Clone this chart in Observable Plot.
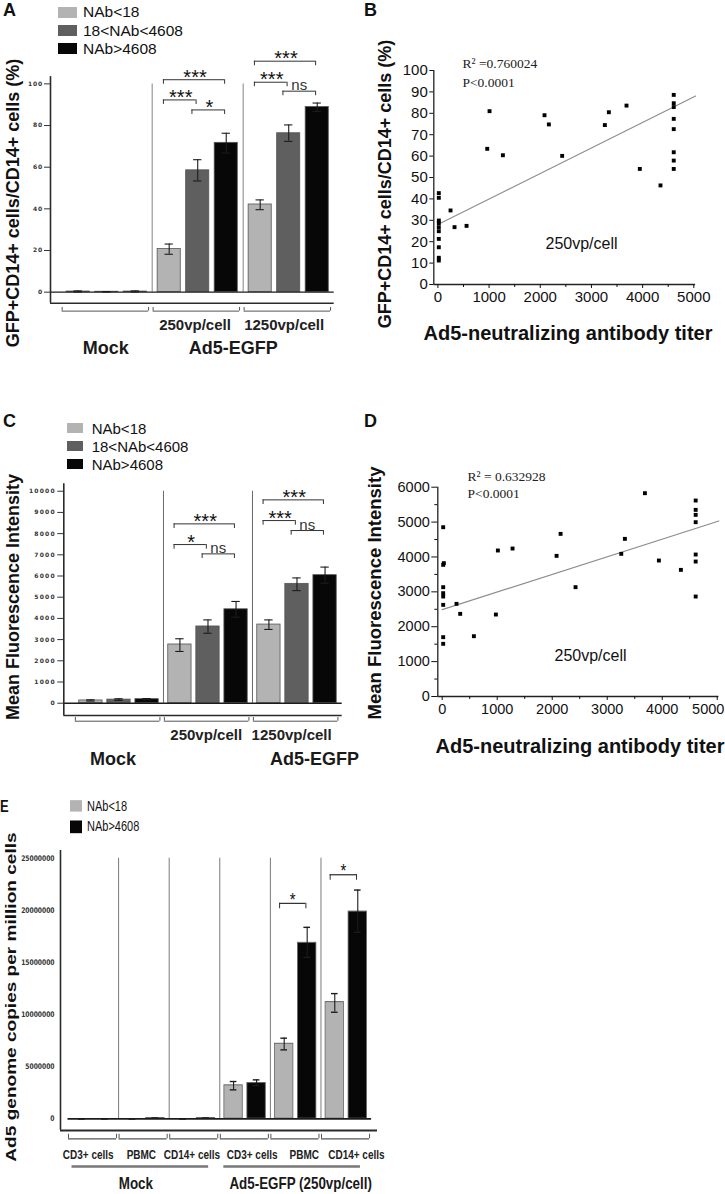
<!DOCTYPE html>
<html><head><meta charset="utf-8">
<script src="https://cdn.jsdelivr.net/npm/d3@7"></script>
<script src="https://cdn.jsdelivr.net/npm/@observablehq/plot@0.6"></script>
<style>
body{margin:0;background:#fff;}
#root{position:relative;width:725px;height:1194px;overflow:hidden;background:#fff;font-family:"Liberation Sans",Arial,sans-serif;color:#111;}
.panel{position:absolute;}
.letter{position:absolute;font-weight:bold;font-size:18px;line-height:1;}
.ytitle{position:absolute;font-weight:bold;white-space:nowrap;line-height:1;transform:translate(-50%,-50%) rotate(-90deg);}
.xtitle{position:absolute;font-weight:bold;white-space:nowrap;line-height:1;transform:translate(-50%,-50%);}
.leg{position:absolute;white-space:nowrap;line-height:1;transform:translateY(-50%);}
.sw{position:absolute;}
</style></head>
<body><div id="root"></div>
<script>
// ---------------- DATA ----------------
// Panels A and C (grouped bars)
const seriesABC = ["NAb<18", "18<NAb<4608", "NAb>4608"];
const colorsABC = ["#b3b3b3", "#5f5f5f", "#070707"];
const groupsAC = ["Mock", "250vp/cell", "1250vp/cell"];
const doseLabelsAC = ["", "250vp/cell", "1250vp/cell"];
const treatmentsAC = ["Mock", "Ad5-EGFP"];
const treatmentOfGroupAC = [0, 1, 1];

// Panel A: GFP+CD14+ cells / CD14+ cells (%)
const valuesA = [[0.3, 0.2, 0.3], [20.7, 58.5, 71.7], [42.1, 76.3, 88.9]];
const lowA = [[0.1, 0.1, 0.1], [18.2, 53.4, 66.8], [39.6, 72.4, 86.8]];
const highA = [[0.6, 0.3, 0.6], [23.1, 63.6, 76.3], [44.3, 80.3, 90.8]];
const yTicksA = [0, 20, 40, 60, 80, 100];
const sigGroupA = [1, 1, 1, 2, 2, 2];
const sigFromA = [0, 0, 1, 0, 0, 1];
const sigToA = [2, 1, 2, 2, 1, 2];
const sigLevelA = [102, 92.3, 87.5, 110.9, 100.8, 96.5];
const sigTextA = ["***", "***", "*", "***", "***", "ns"];

// Panel C: Mean Fluorescence Intensity
const valuesC = [[130, 170, 190], [2770, 3620, 4430], [3710, 5630, 6040]];
const lowC = [[100, 130, 160], [2440, 3300, 4060], [3480, 5310, 5660]];
const highC = [[160, 210, 220], [3040, 3930, 4800], [3930, 5910, 6420]];
const yTicksC = [0, 1000, 2000, 3000, 4000, 5000, 6000, 7000, 8000, 9000, 10000];
const sigGroupC = [1, 1, 1, 2, 2, 2];
const sigFromC = [0, 0, 1, 0, 0, 1];
const sigToC = [2, 1, 2, 2, 1, 2];
const sigLevelC = [8459, 7484, 7044, 9591, 8616, 8145];
const sigTextC = ["***", "*", "ns", "***", "***", "ns"];

// Panel B: scatter, GFP % vs titer
const titerB = [18, 18, 18, 18, 18, 18, 18, 18, 18, 18, 247, 325, 560, 964, 1009, 1270, 2083, 2168, 2428, 3262, 3340, 3685, 3945, 4349, 4608, 4608, 4608, 4608, 4608, 4608, 4608, 4608];
const gfpB = [42.7, 40.5, 29.9, 28.7, 26.8, 24.9, 21.3, 17.4, 12.5, 11.2, 34.6, 26.8, 27.4, 63.4, 81.0, 60.4, 79.1, 74.8, 60.1, 74.5, 80.5, 83.6, 54.0, 46.3, 88.6, 84.7, 82.9, 77.4, 72.6, 61.8, 57.9, 54.0];
const fitB = [28.0, 0.01193]; // intercept, slope of the drawn trend line
const yTicksB = [0, 10, 20, 30, 40, 50, 60, 70, 80, 90, 100];
const xTicksBD = [0, 1000, 2000, 3000, 4000, 5000];
const xMinorBD = [500, 1500, 2500, 3500, 4500];

// Panel D: scatter, MFI vs titer
const titerD = [18, 30, 18, 18, 18, 18, 18, 18, 18, 260, 327, 576, 976, 1012, 1279, 2079, 2152, 2424, 3255, 3321, 3685, 3939, 4339, 4608, 4608, 4608, 4608, 4608, 4608, 4608];
const mfiD = [4853, 3822, 3774, 3134, 2962, 2866, 2627, 1701, 1510, 2656, 2369, 1729, 2350, 4185, 4242, 4032, 4662, 3134, 4089, 4519, 5828, 3898, 3630, 5618, 5350, 5207, 4997, 4070, 3869, 2866];
const fitD = [2490, 0.505];
const yTicksD = [0, 1000, 2000, 3000, 4000, 5000, 6000];
const yMinorD = [500, 1500, 2500, 3500, 4500, 5500];

// Panel E: Ad5 genome copies per million cells
const seriesE = ["NAb<18", "NAb>4608"];
const colorsE = ["#b3b3b3", "#070707"];
const cellTypesE = ["CD3+ cells", "PBMC", "CD14+ cells", "CD3+ cells", "PBMC", "CD14+ cells"];
const treatmentsE = ["Mock", "Ad5-EGFP (250vp/cell)"];
const treatmentOfGroupE = [0, 0, 0, 1, 1, 1];
const valuesE = [[0, 0], [0, 60000], [0, 60000], [3200000, 3420000], [7190000, 16880000], [11190000, 19880000]];
const lowE = [[0, 0], [0, 60000], [0, 60000], [2780000, 3200000], [6620000, 15500000], [10230000, 17900000]];
const highE = [[0, 0], [0, 60000], [0, 60000], [3580000, 3740000], [7740000, 18380000], [12020000, 21960000]];
const yTicksE = [0, 5000000, 10000000, 15000000, 20000000, 25000000];
const sigGroupE = [4, 5];
const sigFromE = [0, 0];
const sigToE = [1, 1];
const sigLevelE = [20680000, 23430000];
const sigTextE = ["*", "*"];

// ---------------- HELPERS ----------------
const root = document.getElementById("root");
function div(parent, cls, text, st) {
  const d = document.createElement("div");
  d.className = cls;
  if (text != null) d.textContent = text;
  Object.assign(d.style, st || {});
  parent.appendChild(d);
  return d;
}
function panel(parent, left, top, node, extra) {
  const p = div(parent, "panel", null, Object.assign({left: left + "px", top: top + "px"}, extra || {}));
  if (node) p.appendChild(node);
  return p;
}

function barPanel(o) {
  const nG = o.values.length;
  const b = d3.scaleBand().domain(d3.range(o.series.length)).range([0, 1]).padding(o.pad);
  const bw = b.bandwidth();
  const rows = o.values.flatMap((vals, gi) => vals.map((v, si) => {
    const x1 = gi + b(si);
    return {gi, si, series: o.series[si], x1, x2: x1 + bw, xc: x1 + bw / 2, value: v, lo: o.low[gi][si], hi: o.high[gi][si]};
  }));
  const at = (g, s) => rows.find(r => r.gi === g && r.si === s);
  const sig = o.sigGroup.map((g, i) => ({
    xa: at(g, o.sigFrom[i]).xc - 0.25 * bw,
    xb: at(g, o.sigTo[i]).xc - 0.07 * bw,
    y: o.sigLevel[i], text: o.sigText[i]
  }));
  const tl = (o.yDomain[1] - o.yDomain[0]) * 0.02;
  const groups = d3.range(nG);
  const cap = bw * 0.18;
  const ends = sig.flatMap(d => [{x: d.xa, y: d.y}, {x: d.xb, y: d.y}]);
  const gEnds = groups.flatMap(g => [g + 0.01, g + 0.96]);
  const treat = o.treatments.map((t, ti) => {
    const gs = groups.filter(g => o.treatmentOf[g] === ti);
    return {t, ti, x: d3.mean(gs, g => g + 0.5), x1: d3.min(gs) + 0.08, x2: d3.max(gs) + 0.78};
  });
  const ink = "#1c1c1c";
  const marks = [
    Plot.ruleX(groups.slice(1), {x: d => d, y1: 0, y2: o.sepTop, stroke: o.sepColor, strokeWidth: o.sepWidth}),
    Plot.rect(rows, {x1: "x1", x2: "x2", y1: 0, y2: "value", fill: "series", stroke: o.barStroke, strokeWidth: 0.8}),
    Plot.ruleY([0], {x1: o.zeroFrom, x2: o.zeroTo, stroke: ink, strokeWidth: 1.4}),
    Plot.ruleX(rows, {x: "xc", y1: "lo", y2: "hi", stroke: ink, strokeWidth: 1.1}),
    Plot.ruleY(rows, {y: "hi", x1: d => d.xc - cap, x2: d => d.xc + cap, stroke: ink, strokeWidth: 1.1}),
    Plot.ruleY(rows, {y: "lo", x1: d => d.xc - cap, x2: d => d.xc + cap, stroke: ink, strokeWidth: 1.1}),
    Plot.ruleX([o.xDomain[0]], {y1: o.yDomain[0], y2: o.yDomain[1], stroke: "#2a2a2a", strokeWidth: 1.6}),
    Plot.ruleY([o.yDomain[0]], {x1: o.xDomain[0], x2: o.xDomain[1], stroke: "#2a2a2a", strokeWidth: 1.6}),
    Plot.axisY(o.yTicks, {tickSize: o.tickSize, tickPadding: o.tickPadding, fontSize: o.tickFont, fontFamily: "DejaVu Sans", fontWeight: "bold", fill: "#333", stroke: "#333", tickFormat: d3.format("d"), label: null}),
    Plot.ruleY(sig, {y: "y", x1: "xa", x2: "xb", stroke: "#333", strokeWidth: 1}),
    Plot.ruleX(ends, {x: "x", y1: d => d.y - tl, y2: "y", stroke: "#333", strokeWidth: 1}),
    Plot.text(sig.filter(d => d.text !== "ns"), {x: d => (d.xa + d.xb) / 2, y: "y", text: "text", lineAnchor: "bottom", fontSize: o.starSize, dy: o.starDy, dx: o.starDx, ariaLabel: "stars"}),
    Plot.text(sig.filter(d => d.text === "ns"), {x: d => (d.xa + d.xb) / 2, y: "y", text: "text", lineAnchor: "bottom", fontSize: 15, dy: -1, fill: "#333"}),
    Plot.ruleY(groups, {y: o.gbY, x1: g => g + 0.01, x2: g => g + 0.96, stroke: "#555", strokeWidth: 1}),
    Plot.ruleX(gEnds, {x: d => d, y1: o.gbY, y2: o.gbY + tl * 0.8, stroke: "#555", strokeWidth: 1}),
    Plot.text(groups.filter(g => o.subLabels[g]), {x: g => g + 0.5 + o.subShift[g], y: o.subY, text: g => o.subLabels[g], fontWeight: "bold", fontSize: o.subSize, fill: "#222"})
  ];
  if (o.underlineY != null) {
    marks.push(Plot.ruleY(treat, {y: o.underlineY, x1: "x1", x2: "x2", stroke: "#777", strokeWidth: 2}));
  }
  treat.forEach((d, i) => {
    marks.push(Plot.text([d], {x: "x", y: o.treatY, text: "t", fontWeight: "bold", fontSize: o.treatSize, dx: o.treatDx[i], fill: "#1a1a1a"}));
  });
  const svg = Plot.plot({
    width: o.width, height: o.height,
    marginTop: o.mt, marginBottom: o.mb, marginLeft: o.ml, marginRight: o.mr,
    x: {domain: o.xDomain, axis: null},
    y: {domain: o.yDomain, axis: null},
    color: {domain: o.series, range: o.colors},
    style: {fontFamily: "Liberation Sans, Arial, sans-serif", background: "transparent", overflow: "visible", color: "#111"},
    marks
  });
  d3.select(svg).selectAll('g[aria-label="y-axis tick label"] text').attr("letter-spacing", o.tickSpacing);
  d3.select(svg).selectAll('g[aria-label="stars"] text').attr("letter-spacing", o.starSpacing);
  return svg;
}

function scatterPanel(o) {
  const pts = o.xs.map((x, i) => ({x, y: o.ys[i]}));
  const fitLine = [0, o.xDomain[1]].map(x => ({x, y: o.fit[0] + o.fit[1] * x}));
  const serif = "Liberation Serif, Times New Roman, serif";
  const marks = [
    Plot.ruleX([o.xDomain[0]], {y1: o.yDomain[0], y2: o.yDomain[1], stroke: "#222", strokeWidth: 1.3}),
    Plot.ruleY([o.yDomain[0]], {x1: o.xDomain[0], x2: o.xDomain[1], stroke: "#222", strokeWidth: 1.3}),
    Plot.axisY(o.yTicks, {tickSize: o.yTickSize, tickPadding: 2, fontSize: o.tickFont, tickFormat: d3.format("d"), label: null}),
    Plot.axisX(o.xTicks, {tickSize: 4, tickPadding: 3, fontSize: o.tickFont, tickFormat: d3.format("d"), label: null}),
    Plot.axisX(o.xMinor, {tickSize: 3, tickFormat: () => "", label: null}),
    Plot.line(fitLine, {x: "x", y: "y", stroke: "#8c8c8c", strokeWidth: 1.1}),
    Plot.dot(pts, {x: "x", y: "y", symbol: "square", r: 2.2, fill: "#000", stroke: null}),
    Plot.text([o.r2], {x: o.annX, y: o.r2Y, text: d => d, textAnchor: "start", fontFamily: serif, fontSize: 13.5, fill: "#222"}),
    Plot.text([o.p], {x: o.annX, y: o.pY, text: d => d, textAnchor: "start", fontFamily: serif, fontSize: 13.5, fill: "#222"}),
    Plot.text([o.dose], {x: o.doseX, y: o.doseY, text: d => d, fontSize: 16, fill: "#111"})
  ];
  if (o.yMinor) marks.splice(3, 0, Plot.axisY(o.yMinor, {tickSize: 3, tickFormat: () => "", label: null}));
  const svg = Plot.plot({
    width: o.width, height: o.height,
    marginTop: o.mt, marginBottom: o.mb, marginLeft: o.ml, marginRight: o.mr,
    x: {domain: o.xDomain, axis: null},
    y: {domain: o.yDomain, axis: null},
    style: {fontFamily: "Liberation Sans, Arial, sans-serif", background: "transparent", overflow: "visible", color: "#111"},
    marks
  });
  if (o.lastXLabelDx) {
    d3.select(svg).selectAll('g[aria-label="x-axis tick label"] text')
      .filter(function () { return this.textContent === "5000"; })
      .attr("dx", o.lastXLabelDx);
  }
  return svg;
}

function legend(parent, items, colors, o) {
  items.forEach((t, i) => {
    div(parent, "sw", null, {left: o.sx + "px", top: (o.tops[i]) + "px", width: o.sw + "px", height: o.sh + "px", background: colors[i]});
    div(parent, "leg", t, {left: o.tx + "px", top: (o.tops[i] + o.sh / 2) + "px", fontSize: o.fs + "px"});
  });
}

// ---------------- PANEL A ----------------
panel(root, 0, 0, barPanel({
  width: 360, height: 370, mt: 76.1, mb: 67.3, ml: 50, mr: 26.3,
  xDomain: [-0.118, 3.0], yDomain: [-5.3, 103.5],
  series: seriesABC, colors: colorsABC, values: valuesA, low: lowA, high: highA, pad: 0.19,
  sepTop: 100, sepColor: "#a0a0a0", sepWidth: 1.3, barStroke: "#555",
  zeroFrom: -0.118, zeroTo: 3.0,
  yTicks: yTicksA, tickSize: 6, tickPadding: 1.5, tickFont: 6, tickSpacing: 0.8,
  sigGroup: sigGroupA, sigFrom: sigFromA, sigTo: sigToA, sigLevel: sigLevelA, sigText: sigTextA,
  starSize: 20, starDy: 4, starDx: 1, starSpacing: 1.5,
  gbY: -9.1, subLabels: doseLabelsAC, subShift: [0, -0.03, -0.05], subY: -16, subSize: 15,
  treatments: treatmentsAC, treatmentOf: treatmentOfGroupAC, treatY: -27, treatSize: 18, treatDx: [-1, -10]
}));
div(root, "letter", "A", {left: "3px", top: "1px"});
legend(root, seriesABC, colorsABC, {sx: 58, sw: 19, sh: 11, tops: [6.7, 25, 43.3], tx: 83, fs: 15.5});
div(root, "ytitle", "GFP+CD14+ cells/CD14+ cells (%)", {left: "13px", top: "203px", fontSize: "18px"});

// ---------------- PANEL B ----------------
panel(root, 360, 0, scatterPanel({
  width: 365, height: 370, mt: 70, mb: 86, ml: 73.3, mr: 29.9,
  xDomain: [-80, 5035], yDomain: [0, 100],
  xs: titerB, ys: gfpB, fit: fitB,
  yTicks: yTicksB, yTickSize: 4, xTicks: xTicksBD, xMinor: xMinorBD, tickFont: 15,
  r2: "R² =0.760024", p: "P<0.0001", annX: 480, r2Y: 103.3, pY: 94.4,
  dose: "250vp/cell", doseX: 2806, doseY: 19.2
}));
div(root, "letter", "B", {left: "364px", top: "1px"});
div(root, "ytitle", "GFP+CD14+ cells/CD14+ cells (%)", {left: "385px", top: "184px", fontSize: "18px"});
div(root, "xtitle", "Ad5-neutralizing antibody titer", {left: "568px", top: "333px", fontSize: "20px"});

// ---------------- PANEL C ----------------
panel(root, 0, 370, barPanel({
  width: 360, height: 400, mt: 113.3, mb: 55, ml: 63.3, mr: 18.3,
  xDomain: [-0.12, 3.008], yDomain: [-580, 10350],
  series: seriesABC, colors: colorsABC, values: valuesC, low: lowC, high: highC, pad: 0.17,
  sepTop: 10000, sepColor: "#6a6a6a", sepWidth: 1, barStroke: "#555",
  zeroFrom: -0.12, zeroTo: 3.008,
  yTicks: yTicksC, tickSize: 6, tickPadding: 2, tickFont: 6, tickSpacing: 1.2,
  sigGroup: sigGroupC, sigFrom: sigFromC, sigTo: sigToC, sigLevel: sigLevelC, sigText: sigTextC,
  starSize: 20, starDy: 4, starDx: 1, starSpacing: 1.5,
  gbY: -849, subLabels: doseLabelsAC, subShift: [0, -0.02, -0.06], subY: -1524, subSize: 15,
  treatments: treatmentsAC, treatmentOf: treatmentOfGroupAC, treatY: -2656, treatSize: 18, treatDx: [-6, 62]
}));
div(root, "letter", "C", {left: "3px", top: "412px"});
legend(root, seriesABC, colorsABC, {sx: 66.7, sw: 16, sh: 10, tops: [422.7, 440.7, 459.3], tx: 91.7, fs: 15});
div(root, "ytitle", "Mean Fluorescence Intensity", {left: "13px", top: "597px", fontSize: "18px"});

// ---------------- PANEL D ----------------
panel(root, 360, 370, scatterPanel({
  width: 365, height: 400, mt: 116.7, mb: 74, ml: 77.3, mr: 6.6,
  xDomain: [-80, 5030], yDomain: [0, 6000],
  xs: titerD, ys: mfiD, fit: fitD,
  yTicks: yTicksD, yMinor: yMinorD, yTickSize: 6, xTicks: xTicksBD, xMinor: xMinorBD, tickFont: 14.5,
  r2: "R² = 0.632928", p: "P<0.0001", annX: 460, r2Y: 6307, pY: 5820,
  dose: "250vp/cell", doseX: 2696, doseY: 1175, lastXLabelDx: -9
}));
div(root, "letter", "D", {left: "364px", top: "412px"});
div(root, "ytitle", "Mean Fluorescence Intensity", {left: "375px", top: "593px", fontSize: "18.5px"});
div(root, "xtitle", "Ad5-neutralizing antibody titer", {left: "580px", top: "746px", fontSize: "20px"});

// ---------------- PANEL E (vertically stretched like the original) ----------------
const eBox = panel(root, 0, 790, null, {width: "400px", height: "318px", transform: "scaleY(1.27)", transformOrigin: "0 0"});
eBox.appendChild(barPanel({
  width: 400, height: 318, mt: 47.2, mb: 50.4, ml: 60, mr: 23,
  xDomain: [-0.148, 6.117], yDomain: [-1120000, 25750000],
  series: seriesE, colors: colorsE, values: valuesE, low: lowE, high: highE, pad: 0.2,
  sepTop: 25000000, sepColor: "#7a7a7a", sepWidth: 1, barStroke: "#666",
  zeroFrom: 0.0, zeroTo: 6.0,
  yTicks: yTicksE, tickSize: 0, tickPadding: 6, tickFont: 6, tickSpacing: 0,
  sigGroup: sigGroupE, sigFrom: sigFromE, sigTo: sigToE, sigLevel: sigLevelE, sigText: sigTextE,
  starSize: 15, starDy: 2, starDx: 0, starSpacing: 0,
  gbY: -1920000, subLabels: cellTypesE, subShift: [-0.1, -0.05, -0.05, 0.14, 0.17, 0.2], subY: -3450000, subSize: 10,
  treatments: treatmentsE, treatmentOf: treatmentOfGroupE, treatY: -6250000, treatSize: 13.4, treatDx: [-8, 5],
  underlineY: -4580000
}));
eBox.firstChild.style.position = "absolute";
eBox.firstChild.style.left = "0px";
eBox.firstChild.style.top = "0px";
div(eBox, "letter", "E", {left: "0px", top: "5.5px", fontSize: "13px"});
legend(eBox, seriesE, colorsE, {sx: 70, sw: 11.7, sh: 9.2, tops: [7.9, 24.4], tx: 87, fs: 11});
div(eBox, "ytitle", "Ad5 genome copies per million cells", {left: "9.5px", top: "163px", fontSize: "15px"});
</script></body></html>
